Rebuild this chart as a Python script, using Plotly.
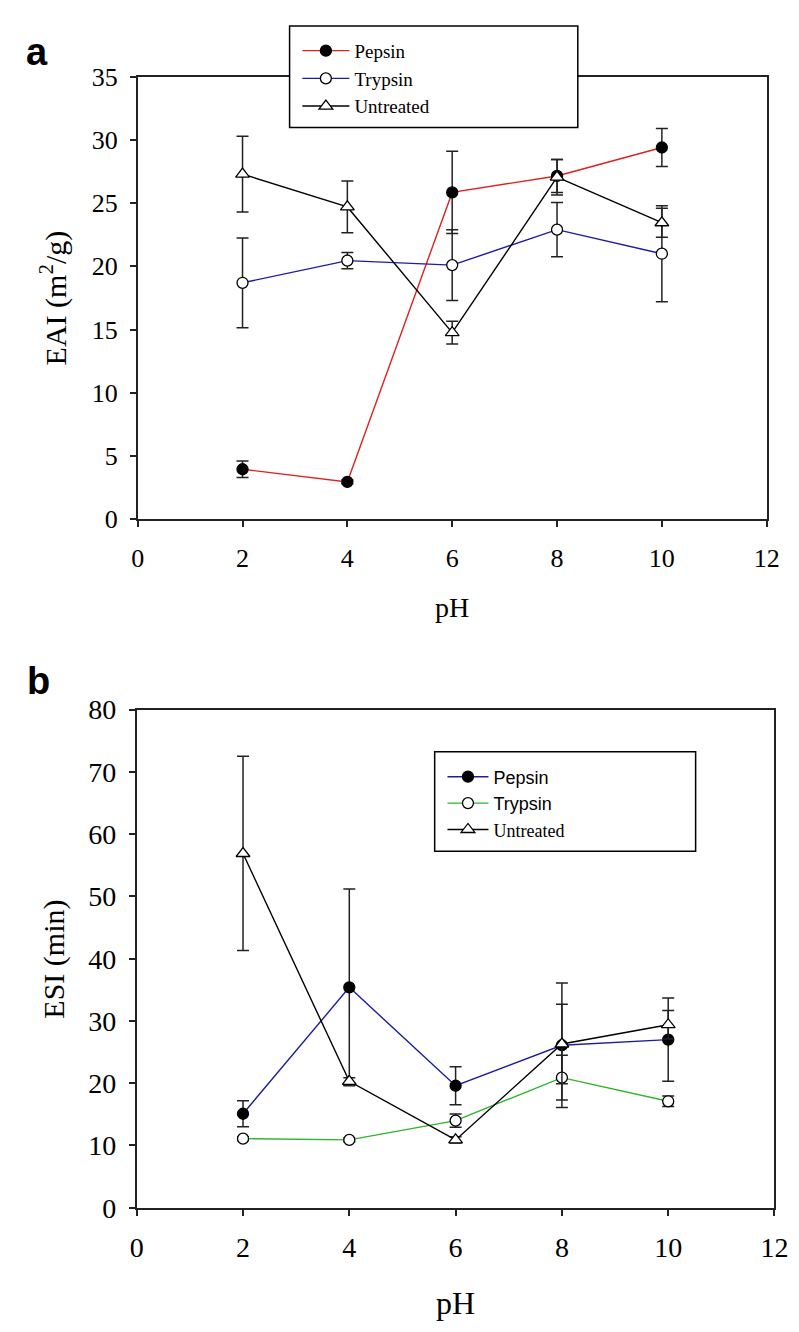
import plotly.graph_objects as go

W, H = 799, 1332

ph = [2, 4, 6, 8, 10]

# Panel a: EAI (m2/g)
eai_pepsin = [3.95, 2.95, 25.85, 27.15, 29.4]
eai_pepsin_err = [0.65, 0.15, 3.25, 1.3, 1.5]
eai_trypsin = [18.7, 20.45, 20.1, 22.9, 21.0]
eai_trypsin_err = [3.55, 0.65, 2.8, 2.15, 3.8]
eai_untreated = [27.3, 24.7, 14.75, 27.05, 23.45]
eai_untreated_err = [3.0, 2.05, 0.9, 1.4, 1.15]

# Panel b: ESI (min)
esi_pepsin = [15.1, 35.4, 19.6, 26.1, 27.0]
esi_pepsin_err = [2.1, 15.8, 3.05, 10.0, 6.7]
esi_trypsin = [11.1, 10.9, 14.0, 20.9, 17.1]
esi_trypsin_err = [0.3, 0.3, 1.05, 3.6, 0.85]
esi_untreated = [56.9, 20.3, 10.9, 26.3, 29.4]
esi_untreated_err = [15.6, 0.6, 0.5, 6.4, 2.3]

names = ["Pepsin", "Trypsin", "Untreated"]
x_ticks = [0, 2, 4, 6, 8, 10, 12]
eai_ticks = [0, 5, 10, 15, 20, 25, 30, 35]
esi_ticks = [0, 10, 20, 30, 40, 50, 60, 70, 80]

SERIF = "Liberation Serif"
SANS = "Liberation Sans"

def px_x(p):
    return p / W

def px_y(p):
    return 1 - p / H

fig = go.Figure()

def add_series(x, y, err, name, color, symbol, fill, xa, ya, legend, size):
    fig.add_trace(go.Scatter(
        x=x, y=y, name=name, mode="lines+markers",
        xaxis=xa, yaxis=ya, legend=legend,
        line=dict(color=color, width=1.4),
        marker=dict(symbol=symbol, size=size, color=fill,
                    line=dict(color="black", width=1.3)),
        error_y=dict(type="data", array=err, visible=True,
                     color="#222222", thickness=1.5, width=6),
    ))

add_series(ph, eai_pepsin, eai_pepsin_err, names[0], "#e0201c", "circle", "black", "x", "y", "legend", 11)
add_series(ph, eai_trypsin, eai_trypsin_err, names[1], "#1c1ca0", "circle", "white", "x", "y", "legend", 11)
add_series(ph, eai_untreated, eai_untreated_err, names[2], "black", "triangle-up", "white", "x", "y", "legend", 12)

add_series(ph, esi_pepsin, esi_pepsin_err, names[0], "#1c1ca0", "circle", "black", "x2", "y2", "legend2", 11)
add_series(ph, esi_trypsin, esi_trypsin_err, names[1], "#2db52d", "circle", "white", "x2", "y2", "legend2", 11)
add_series(ph, esi_untreated, esi_untreated_err,
           '<span style="font-family:Liberation Serif">Untreated</span>',
           "black", "triangle-up", "white", "x2", "y2", "legend2", 12)

axis_common = dict(
    showline=True, linecolor="#222222", linewidth=1.5, mirror=True,
    ticks="outside", ticklen=6, tickwidth=1.5, tickcolor="#222222",
    showgrid=False, zeroline=False, tickmode="array",
)

def ann(text, x, y, size, family=SERIF, angle=0):
    return dict(text=text, x=px_x(x), y=px_y(y), xref="paper", yref="paper",
                xanchor="center", yanchor="middle", showarrow=False,
                textangle=angle, font=dict(family=family, size=size, color="black"))

fig.update_layout(
    width=W, height=H,
    margin=dict(l=0, r=0, t=0, b=0),
    paper_bgcolor="white", plot_bgcolor="white",
    showlegend=True,
    xaxis=dict(**axis_common, domain=[px_x(126), px_x(772)], range=[0, 12],
               tickvals=x_ticks, ticktext=[str(v) for v in x_ticks],
               tickfont=dict(family=SERIF, size=26, color="black"),
               anchor="y", ticklabelstandoff=9),
    yaxis=dict(**axis_common, domain=[px_y(508), px_y(55)], range=[0, 35],
               tickvals=eai_ticks, ticktext=[str(v) for v in eai_ticks],
               tickfont=dict(family=SERIF, size=26, color="black"),
               anchor="x", ticklabelstandoff=7),
    xaxis2=dict(**axis_common, domain=[px_x(125), px_x(780)], range=[0, 12],
                tickvals=x_ticks, ticktext=[str(v) for v in x_ticks],
                tickfont=dict(family=SERIF, size=28, color="black"),
                anchor="y2", ticklabelstandoff=8),
    yaxis2=dict(**axis_common, domain=[px_y(1213), px_y(703)], range=[0, 80],
                tickvals=esi_ticks, ticktext=[str(v) for v in esi_ticks],
                tickfont=dict(family=SERIF, size=28, color="black"),
                anchor="x2", ticklabelstandoff=7),
    legend=dict(x=px_x(290), y=px_y(9), xanchor="left", yanchor="top",
                bgcolor="rgba(0,0,0,0)", borderwidth=0, itemwidth=47,
                font=dict(family=SERIF, size=19, color="black"),
                tracegroupgap=0),
    legend2=dict(x=px_x(439), y=px_y(753), xanchor="left", yanchor="top",
                 bgcolor="rgba(0,0,0,0)", borderwidth=0, itemwidth=41,
                 font=dict(family=SANS, size=18, color="black"),
                 tracegroupgap=0),
    shapes=[
        dict(type="rect", xref="paper", yref="paper", layer="above",
             x0=px_x(282), x1=px_x(578), y0=px_y(107), y1=px_y(3),
             line=dict(color="black", width=1.5), fillcolor="white"),
        dict(type="rect", xref="paper", yref="paper", layer="above",
             x0=px_x(431), x1=px_x(699), y0=px_y(848), y1=px_y(746),
             line=dict(color="black", width=1.5), fillcolor="white"),
    ],
    annotations=[
        ann("<b>a</b>", 23, 30, 38, SANS),
        ann("<b>b</b>", 24, 674, 38, SANS),
        ann("EAI (m<sup>2</sup>/g)", 40, 281, 30, SERIF, -90),
        ann("pH", 449, 598, 28),
        ann("ESI (min)", 40, 958, 30, SERIF, -90),
        ann("pH", 452, 1311, 32),
    ],
)

fig.write_html("out.html")
